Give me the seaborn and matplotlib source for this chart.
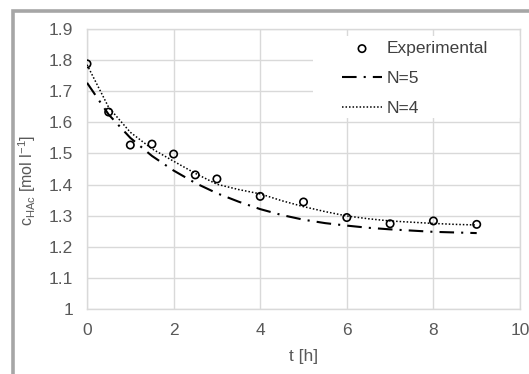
import matplotlib
matplotlib.use("Agg")
import matplotlib.pyplot as plt
import matplotlib.patches as mpatches
import pandas as pd
import seaborn as sns

# Measured concentration of acetic acid over time
t_exp = [0, 0.5, 1, 1.5, 2, 2.5, 3, 4, 5, 6, 7, 8, 9]
c_exp = [1.788, 1.633, 1.527, 1.530, 1.498, 1.431, 1.418, 1.362, 1.344,
         1.294, 1.274, 1.283, 1.272]

# Model curves (tanks-in-series with N stages)
t_model = [0, 0.5, 1, 1.5, 2, 2.5, 3, 3.5, 4, 4.5, 5, 5.5, 6, 6.5, 7, 7.5,
           8, 8.5, 9]
c_n5 = [1.727, 1.625, 1.550, 1.492, 1.445, 1.405, 1.372, 1.345, 1.321,
        1.302, 1.287, 1.276, 1.268, 1.261, 1.256, 1.252, 1.248, 1.246, 1.244]
c_n4 = [1.785, 1.648, 1.568, 1.515, 1.475, 1.436, 1.401, 1.384, 1.370,
        1.348, 1.329, 1.313, 1.299, 1.290, 1.283, 1.279, 1.275, 1.272, 1.270]

x_ticks = [0, 2, 4, 6, 8, 10]
y_ticks = [1.0, 1.1, 1.2, 1.3, 1.4, 1.5, 1.6, 1.7, 1.8, 1.9]
y_tick_labels = ["1", "1.1", "1.2", "1.3", "1.4", "1.5", "1.6", "1.7", "1.8", "1.9"]

df_exp = pd.DataFrame({"t": t_exp, "c": c_exp})
df_model = pd.DataFrame({"t": t_model, "n5": c_n5, "n4": c_n4})

sns.set_theme(style="whitegrid")
plt.rcParams["font.family"] = ["Liberation Sans", "DejaVu Sans"]
plt.rcParams["mathtext.fontset"] = "custom"
plt.rcParams["mathtext.rm"] = "Liberation Sans"
plt.rcParams["mathtext.it"] = "Liberation Sans"

text_col = "#595959"
grid_col = "#d9d9d9"
fs = 12.5

fig = plt.figure(figsize=(5.29, 3.74), dpi=100)
ax = fig.add_axes([0.1645, 0.1738, 0.8185, 0.7487])

sns.lineplot(data=df_model, x="t", y="n5", ax=ax, color="black", lw=1.5,
             linestyle=(0, (7.0, 3.4, 1, 3.4)), label="N=5", zorder=3)
sns.lineplot(data=df_model, x="t", y="n4", ax=ax, color="black", lw=1.1,
             linestyle=(0, (1, 1.3)), label="N=4", zorder=3)
sns.scatterplot(data=df_exp, x="t", y="c", ax=ax, marker="o", s=28,
                facecolor="none", edgecolor="black", linewidth=1.2,
                label="Experimental", zorder=4)

ax.set_xlim(0, 10)
ax.set_ylim(1.0, 1.9)
ax.set_xticks(x_ticks)
ax.set_yticks(y_ticks)
ax.set_yticklabels(y_tick_labels)
ax.grid(True, color=grid_col, lw=1.0)
ax.set_facecolor("white")
for s in ax.spines.values():
    s.set_color(grid_col)
    s.set_linewidth(1.0)
ax.tick_params(axis="both", length=0, labelsize=fs, labelcolor=text_col)
ax.tick_params(axis="x", pad=10)
ax.tick_params(axis="y", pad=10)

ax.set_xlabel("t [h]", fontsize=fs, color=text_col, labelpad=8)
ax.set_ylabel(r"c$_{\mathrm{HAc}}$ [mol l$^{-1}$]", fontsize=11.5,
              color=text_col)
ax.yaxis.set_label_coords(-0.114, 0.46)

# white legend area hiding the grid
ax.add_patch(mpatches.Rectangle((0.522, 0.682), 0.478, 0.293,
                                transform=ax.transAxes, facecolor="white",
                                edgecolor="none", zorder=1))

handles, labels = ax.get_legend_handles_labels()
order = [labels.index(k) for k in ["Experimental", "N=5", "N=4"]]
leg = ax.legend([handles[i] for i in order], [labels[i] for i in order],
                loc="upper left", bbox_to_anchor=(0.589, 0.957),
                frameon=False, fontsize=fs, borderpad=0, borderaxespad=0,
                handlelength=2.3, handletextpad=0.25, labelspacing=0.85)
for txt in leg.get_texts():
    txt.set_color("#404040")

# outer chart frame
frame = mpatches.Rectangle((13 / 529, -0.2), 1.5, 1 - 11 / 374 + 0.2,
                           transform=fig.transFigure, fill=False,
                           edgecolor="#a6a6a6", lw=2.6, clip_on=False)
fig.patches.append(frame)

fig.savefig("out.png", dpi=100)
